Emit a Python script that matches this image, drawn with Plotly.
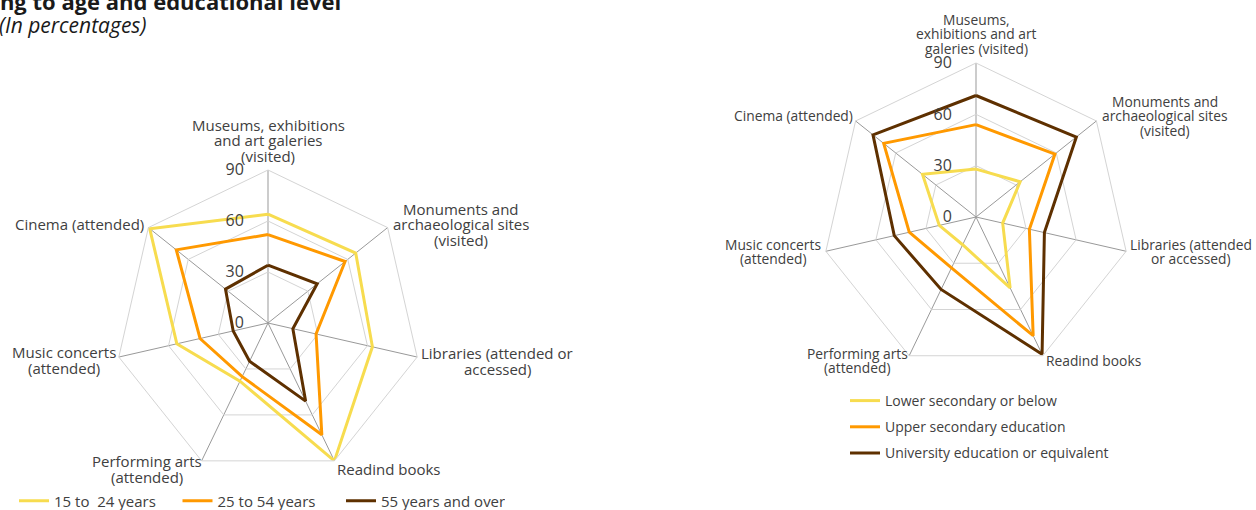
import plotly.graph_objects as go

W, H = 1256, 510

categories = [
    "Museums, exhibitions and art galeries (visited)",
    "Monuments and archaeological sites (visited)",
    "Libraries (attended or accessed)",
    "Readind books",
    "Performing arts (attended)",
    "Music concerts (attended)",
    "Cinema (attended)",
]

# Left chart: by age
age_series = ["15 to \u00a024 years", "25 to 54 years", "55 years and over"]
age_15_24 = [64, 66, 63, 90, 38, 55, 89]
age_25_54 = [52, 58, 29, 73, 35, 41, 69]
age_55_over = [34, 37, 15, 51, 25, 21, 32]

# Right chart: by educational level
edu_series = ["Lower secondary or below", "Upper secondary education", "University education or equivalent"]
edu_lower = [28, 33, 16, 46, 18, 22, 40]
edu_upper = [54, 59, 32, 77, 33, 40, 69]
edu_univ = [71, 75, 41, 89, 47, 49, 77]

radial_ticks = [0, 30, 60, 90]

colors = ["#F7DC4F", "#FF9900", "#5E3000"]

left_labels = [
    "Museums, exhibitions<br>and art galeries<br>(visited)",
    "Monuments and<br>archaeological sites<br>(visited)",
    "Libraries (attended or<br>accessed)",
    "Readind books",
    "Performing arts<br>(attended)",
    "Music concerts<br>(attended)",
    "Cinema (attended)",
]
right_labels = [
    "Museums,<br>exhibitions and art<br>galeries (visited)",
    "Monuments and<br>archaeological sites<br>(visited)",
    "Libraries (attended<br>or accessed)",
    "Readind books",
    "Performing arts<br>(attended)",
    "Music concerts<br>(attended)",
    "Cinema (attended)",
]

title_text = "Participation in cultural activities according to age and educational level"
subtitle_text = "(In percentages)"

FONT = "Open Sans"
TXT = "#404040"


def px_dom(cx, cy, r):
    return dict(x=[(cx - r) / W, (cx + r) / W], y=[1 - (cy + r) / H, 1 - (cy - r) / H])


fig = go.Figure()

left_data = [age_15_24, age_25_54, age_55_over]
for name, vals, col in zip(age_series, left_data, colors):
    fig.add_trace(go.Scatterpolar(
        r=vals + vals[:1], theta=categories + categories[:1], mode="lines",
        line=dict(color=col, width=3), name=name, subplot="polar", legend="legend",
    ))

right_data = [edu_lower, edu_upper, edu_univ]
for i, (name, vals, col) in enumerate(zip(edu_series, right_data, colors)):
    fig.add_trace(go.Scatterpolar(
        r=vals + vals[:1], theta=categories + categories[:1], mode="lines",
        line=dict(color=col, width=3), name=name, subplot="polar2", legend="legend2",
        legendgroup="g%d" % i,
    ))


def polar_cfg(dom):
    return dict(
        domain=dom,
        gridshape="linear",
        bgcolor="rgba(0,0,0,0)",
        radialaxis=dict(
            range=[0, 90], tickvals=radial_ticks, angle=90, side="counterclockwise",
            showline=False, ticks="outside", ticklen=18, tickcolor="rgba(0,0,0,0)",
            gridcolor="#d4d4d4", gridwidth=1,
            tickfont=dict(family=FONT, size=16, color=TXT), tickangle=90,
        ),
        angularaxis=dict(
            direction="clockwise", rotation=90, showticklabels=False, ticks="",
            gridcolor="#999999", gridwidth=1, linecolor="#d4d4d4", linewidth=1,
            categoryorder="array", categoryarray=categories,
        ),
    )


fig.update_layout(
    width=W, height=H, autosize=False,
    margin=dict(l=0, r=0, t=0, b=0, autoexpand=False),
    paper_bgcolor="white", plot_bgcolor="white",
    font=dict(family=FONT, color=TXT),
    polar=polar_cfg(px_dom(268, 323, 153)),
    polar2=polar_cfg(px_dom(976, 217, 154)),
    legend=dict(
        orientation="h", x=14 / W, xanchor="left", y=1 - 501 / H, yanchor="middle",
        font=dict(family=FONT, size=15, color=TXT), bgcolor="rgba(0,0,0,0)",
        entrywidthmode="pixels", entrywidth=118.5,
    ),
    legend2=dict(
        orientation="v", x=845 / W, xanchor="left", y=1 - 385 / H, yanchor="top",
        font=dict(family=FONT, size=14, color=TXT), bgcolor="rgba(0,0,0,0)",
        tracegroupgap=5,
    ),
    showlegend=True,
)

left_pos = [(268, 140), (461, 224), (497, 361), (389, 469), (146.5, 469), (64, 360), (79.5, 224)]
right_pos = [(976, 34), (1165, 116), (1191, 251.5), (1093.5, 360), (857.5, 360.5), (772.5, 251.5), (793, 116)]

ann = []


def add_label(text, x, y, size, spacing):
    lines = text.split("<br>")
    n = len(lines)
    for i, ln in enumerate(lines):
        yy = y + (i - (n - 1) / 2) * spacing
        ann.append(dict(text=ln, x=x / W, y=1 - yy / H, xref="paper", yref="paper",
                        xanchor="center", yanchor="middle", align="center", showarrow=False,
                        font=dict(family=FONT, size=size, color=TXT)))


for t, (x, y) in zip(left_labels, left_pos):
    add_label(t, x, y, 15, 15.5)
for t, (x, y) in zip(right_labels, right_pos):
    add_label(t, x, y, 13.8, 14.7)

ann.append(dict(text="<b>" + title_text + "</b>",
                x=343 / W, y=1 - 0.5 / H, xref="paper", yref="paper", xanchor="right",
                yanchor="middle", showarrow=False, font=dict(family=FONT, size=22, color="#1a1a1a")))
ann.append(dict(text="<i>" + subtitle_text + "</i>",
                x=-3 / W, y=1 - 25 / H, xref="paper", yref="paper", xanchor="left",
                yanchor="middle", showarrow=False, font=dict(family=FONT, size=21, color="#1a1a1a")))

fig.update_layout(annotations=ann)

fig.write_html("out.html", config={"displayModeBar": False},
               post_script="document.body.style.margin='0px';")
